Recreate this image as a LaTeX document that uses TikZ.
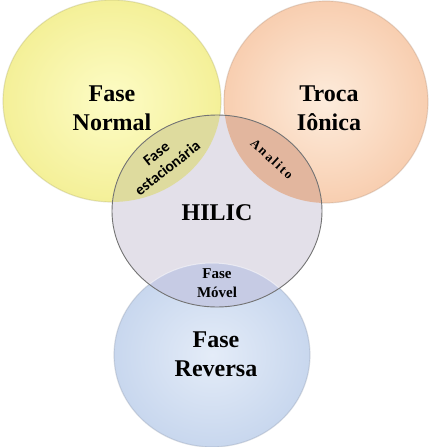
\documentclass[tikz,border=0pt]{standalone}
\usepackage{fontspec}
\setmainfont{Liberation Serif}
\newfontfamily\calib{Carlito}
\newfontfamily\spacedserif[LetterSpace=15]{Liberation Serif}
\usetikzlibrary{shapes.geometric}
\definecolor{yin}{RGB}{253,252,198}
\definecolor{yout}{RGB}{244,240,152}
\definecolor{oin}{RGB}{253,236,220}
\definecolor{oout}{RGB}{248,206,176}
\definecolor{bin}{RGB}{228,236,248}
\definecolor{bout}{RGB}{200,215,238}
\definecolor{hfill}{RGB}{227,224,233}
\definecolor{ylens}{RGB}{222,219,158}
\definecolor{olens}{RGB}{226,182,158}
\definecolor{blens}{RGB}{198,203,228}
\definecolor{hline}{RGB}{115,115,115}
\tikzset{
  bigtxt/.style={font=\fontsize{24}{29}\selectfont\bfseries, align=center, text=black, inner sep=0pt},
  midtxt/.style={font=\fontsize{15}{19}\selectfont\bfseries, align=center, text=black, inner sep=0pt},
  rim/.style={line width=1.2pt, opacity=0.3}
}
\begin{document}
\begin{tikzpicture}[x=1pt,y=-1pt]
\useasboundingbox (0,0) rectangle (429,447);
% base circles
\shade[inner color=yin, outer color=yout] (112,101) ellipse [x radius=109pt, y radius=101pt];
\draw[rim, draw=yout!70!black] (112,101) ellipse [x radius=109pt, y radius=101pt];
\shade[inner color=oin, outer color=oout] (326,102) ellipse [x radius=102pt, y radius=101pt];
\draw[rim, draw=oout!70!black] (326,102) ellipse [x radius=102pt, y radius=101pt];
\shade[inner color=bin, outer color=bout] (212,355) ellipse [x radius=98pt, y radius=92pt];
\draw[rim, draw=bout!70!black] (212,355) ellipse [x radius=98pt, y radius=92pt];
% HILIC
\fill[hfill] (217,211) ellipse [x radius=105pt, y radius=96pt];
\begin{scope}
  \clip (217,211) ellipse [x radius=105pt, y radius=96pt];
  \fill[ylens] (112,101) ellipse [x radius=109pt, y radius=101pt];
  \fill[olens] (326,102) ellipse [x radius=102pt, y radius=101pt];
  \fill[blens] (212,355) ellipse [x radius=98pt, y radius=92pt];
  \draw[white, opacity=0.5, line width=1pt] (212,355) ellipse [x radius=98pt, y radius=92pt];
\end{scope}
\draw[hline, line width=0.9pt] (217,211) ellipse [x radius=105pt, y radius=96pt];
% texts
\node[bigtxt] (normal) at (112,108) {Fase\\Normal};
\node[bigtxt] (ionica) at (329,108) {Troca\\Iônica};
\node[bigtxt] (hilic) at (217,213) {HILIC};
\node[bigtxt] (reversa) at (216,354) {Fase\\Reversa};
\node[midtxt] (movel) at (217,283) {Fase\\Móvel};
\node[font=\calib\fontsize{15.5}{18}\selectfont\bfseries, align=center, inner sep=0pt, rotate=38] (estac) at (162,161) {Fase\\estacionária};
\node[font=\spacedserif\fontsize{13}{14}\selectfont\bfseries, inner sep=0pt, rotate=-43] (analito) at (272,159) {Analito};
\end{tikzpicture}
\end{document}
